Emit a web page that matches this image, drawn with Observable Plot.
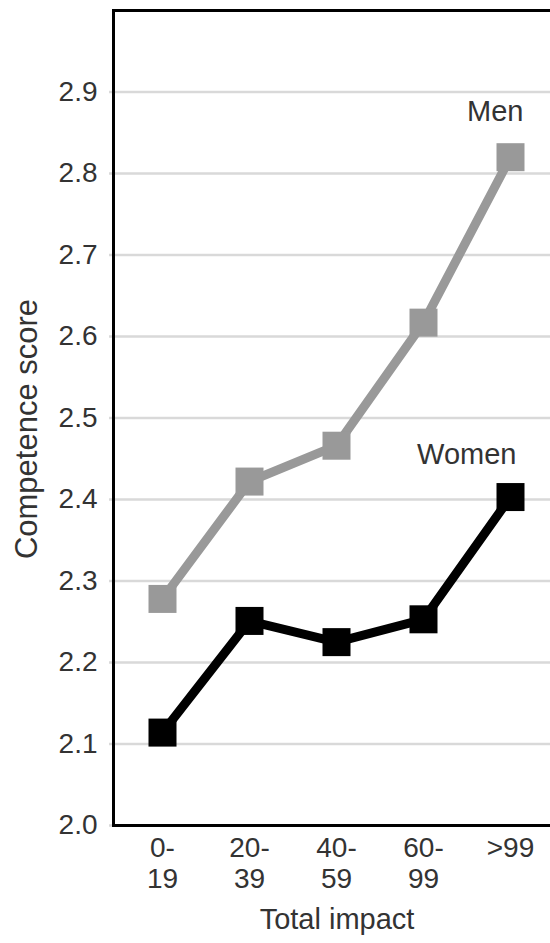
<!DOCTYPE html>
<html>
<head>
<meta charset="utf-8">
<script src="https://cdn.jsdelivr.net/npm/d3@7"></script>
<script src="https://cdn.jsdelivr.net/npm/@observablehq/plot@0.6"></script>
<style>
  html, body { margin: 0; padding: 0; background: #fff; }
  #chart svg { display: block; }
</style>
</head>
<body>
<div id="chart"></div>
<script>
const categories = ["0-19", "20-39", "40-59", "60-99", ">99"];
const tickLabels = ["0-\n19", "20-\n39", "40-\n59", "60-\n99", ">99"];
const men = [2.278, 2.422, 2.466, 2.617, 2.82];
const women = [2.114, 2.251, 2.225, 2.253, 2.403];
const yTicks = [2.0, 2.1, 2.2, 2.3, 2.4, 2.5, 2.6, 2.7, 2.8, 2.9];
const seriesNames = ["Men", "Women"];
const xTitle = "Total impact";
const yTitle = "Competence score";

const data = categories.map((c, i) => ({cat: c, men: men[i], women: women[i]}));
const last = [data[data.length - 1]];

const font = "'Liberation Sans', Arial, Helvetica, sans-serif";
const txt = "#333";

const chart = Plot.plot({
  width: 550,
  height: 943,
  marginLeft: 113,
  marginRight: -6,
  marginTop: 10,
  marginBottom: 118,
  style: {fontFamily: font, fontSize: "28px", background: "#fff", color: txt},
  x: {type: "point", domain: categories, range: [161, 511], padding: 0},
  y: {domain: [2, 3]},
  marks: [
    Plot.gridY(yTicks, {stroke: "#d9d9d9", strokeOpacity: 1, strokeWidth: 2.5}),
    Plot.axisY({ticks: yTicks, tickSize: 4, tickPadding: 12, stroke: "#d9d9d9", strokeWidth: 2.5,
                fill: txt, fontSize: 28, tickFormat: d3.format(".1f"), label: null}),
    Plot.axisX({tickSize: 0, tickPadding: 9, fontSize: 28, fill: txt, lineHeight: 1.12,
                tickFormat: d => tickLabels[categories.indexOf(d)], label: null}),
    Plot.frame({stroke: "#000", strokeWidth: 3}),
    Plot.line(data, {x: "cat", y: "men", stroke: "#999", strokeWidth: 9}),
    Plot.dot(data, {x: "cat", y: "men", symbol: "square", r: 15.8, fill: "#999", stroke: null}),
    Plot.line(data, {x: "cat", y: "women", stroke: "#000", strokeWidth: 9}),
    Plot.dot(data, {x: "cat", y: "women", symbol: "square", r: 15.8, fill: "#000", stroke: null}),
    Plot.text(last, {x: "cat", y: "men", text: () => seriesNames[0], textAnchor: "end", lineAnchor: "bottom",
                     dx: 13, dy: -36, fill: txt, fontSize: 29}),
    Plot.text(last, {x: "cat", y: "women", text: () => seriesNames[1], textAnchor: "end", lineAnchor: "bottom",
                     dx: 6, dy: -33, fill: txt, fontSize: 29}),
    Plot.text([xTitle], {frameAnchor: "bottom", lineAnchor: "bottom", dy: 103, dx: 2, fill: txt, fontSize: 29}),
    Plot.text([yTitle], {frameAnchor: "left", rotate: -90, textAnchor: "middle", lineAnchor: "middle",
                         dx: -86, dy: 11, fill: txt, fontSize: 31})
  ]
});

document.getElementById("chart").appendChild(chart);
</script>
</body>
</html>
